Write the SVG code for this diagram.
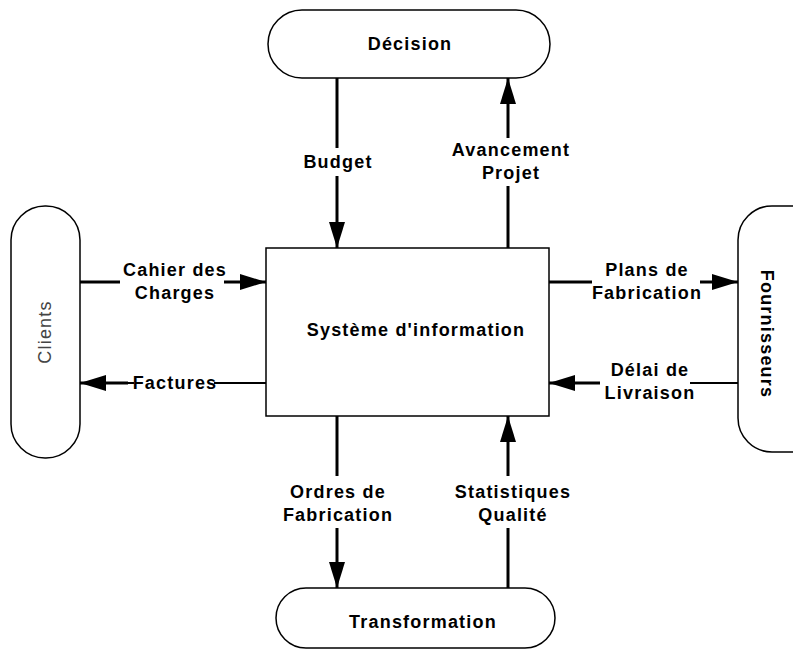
<svg xmlns="http://www.w3.org/2000/svg" width="793" height="656" viewBox="0 0 793 656">
<defs>
<marker id="ahb" markerWidth="26" markerHeight="16" refX="26" refY="8" orient="auto" markerUnits="userSpaceOnUse" viewBox="0 0 26 16">
<path d="M0,0 L26,8 L0,16 Z" fill="#000"/>
</marker>
</defs>
<style>
.n{fill:#fff;stroke:#000;stroke-width:1.5}
.t{font-family:"Liberation Sans",Arial,sans-serif;font-weight:bold;font-size:18px;letter-spacing:1.2px;fill:#000;text-anchor:middle}
.c{stroke:#000;stroke-width:3;fill:none}
.c2{stroke:#000;stroke-width:2;fill:none}
</style>
<rect width="793" height="656" fill="#fff"/>
<g id="decision"><rect class="n" x="268" y="10" width="282" height="68" rx="34" ry="34"/><text class="t" x="410" y="50">Décision</text></g>
<g id="systeme"><rect class="n" x="266" y="248" width="283" height="168"/><text class="t" x="416" y="336">Système d'information</text></g>
<g id="clients"><rect class="n" x="11" y="206" width="69" height="252" rx="34" ry="34"/><text x="45" y="332" transform="rotate(-90 45 332)" style="font-family:'Liberation Sans',Arial,sans-serif;font-size:18px;letter-spacing:1.2px;fill:#444;text-anchor:middle;dominant-baseline:central">Clients</text></g>
<g id="fournisseurs"><rect class="n" x="738" y="206" width="90" height="246" rx="34" ry="34"/><text class="t" x="767" y="334" transform="rotate(90 767 334)" style="dominant-baseline:central">Fournisseurs</text></g>
<g id="transformation"><rect class="n" x="276" y="588" width="279" height="60" rx="30" ry="30"/><text class="t" x="423" y="628">Transformation</text></g>
<g id="connectors">
<line class="c" x1="337" y1="78" x2="337" y2="148"/>
<line class="c" x1="337" y1="176" x2="337" y2="248" marker-end="url(#ahb)"/>
<text class="t" x="338" y="168">Budget</text>
<line class="c" x1="508" y1="248" x2="508" y2="186"/>
<line class="c" x1="508" y1="138" x2="508" y2="78" marker-end="url(#ahb)"/>
<text class="t" x="511" y="156">Avancement</text>
<text class="t" x="511" y="179">Projet</text>
<line class="c" x1="80" y1="282" x2="120" y2="282"/>
<line class="c" x1="224" y1="282" x2="266" y2="282" marker-end="url(#ahb)"/>
<text class="t" x="175" y="276">Cahier des</text>
<text class="t" x="175" y="299">Charges</text>
<line class="c2" x1="266" y1="383" x2="214" y2="383"/>
<line class="c2" x1="134" y1="383" x2="128" y2="383"/>
<line class="c" x1="128" y1="383" x2="80" y2="383" marker-end="url(#ahb)"/>
<text class="t" x="175" y="389">Factures</text>
<line class="c" x1="549" y1="282" x2="592" y2="282"/>
<line class="c" x1="700" y1="282" x2="738" y2="282" marker-end="url(#ahb)"/>
<text class="t" x="647" y="276">Plans de</text>
<text class="t" x="647" y="299">Fabrication</text>
<line class="c2" x1="738" y1="383" x2="690" y2="383"/>
<line class="c" x1="600" y1="383" x2="549" y2="383" marker-end="url(#ahb)"/>
<text class="t" x="650" y="376">Délai de</text>
<text class="t" x="650" y="399">Livraison</text>
<line class="c" x1="337" y1="416" x2="337" y2="476"/>
<line class="c" x1="337" y1="528" x2="337" y2="588" marker-end="url(#ahb)"/>
<text class="t" x="338" y="498">Ordres de</text>
<text class="t" x="338" y="521">Fabrication</text>
<line class="c" x1="508" y1="588" x2="508" y2="528"/>
<line class="c" x1="508" y1="476" x2="508" y2="416" marker-end="url(#ahb)"/>
<text class="t" x="513" y="498">Statistiques</text>
<text class="t" x="513" y="521">Qualité</text>
</g>
</svg>
